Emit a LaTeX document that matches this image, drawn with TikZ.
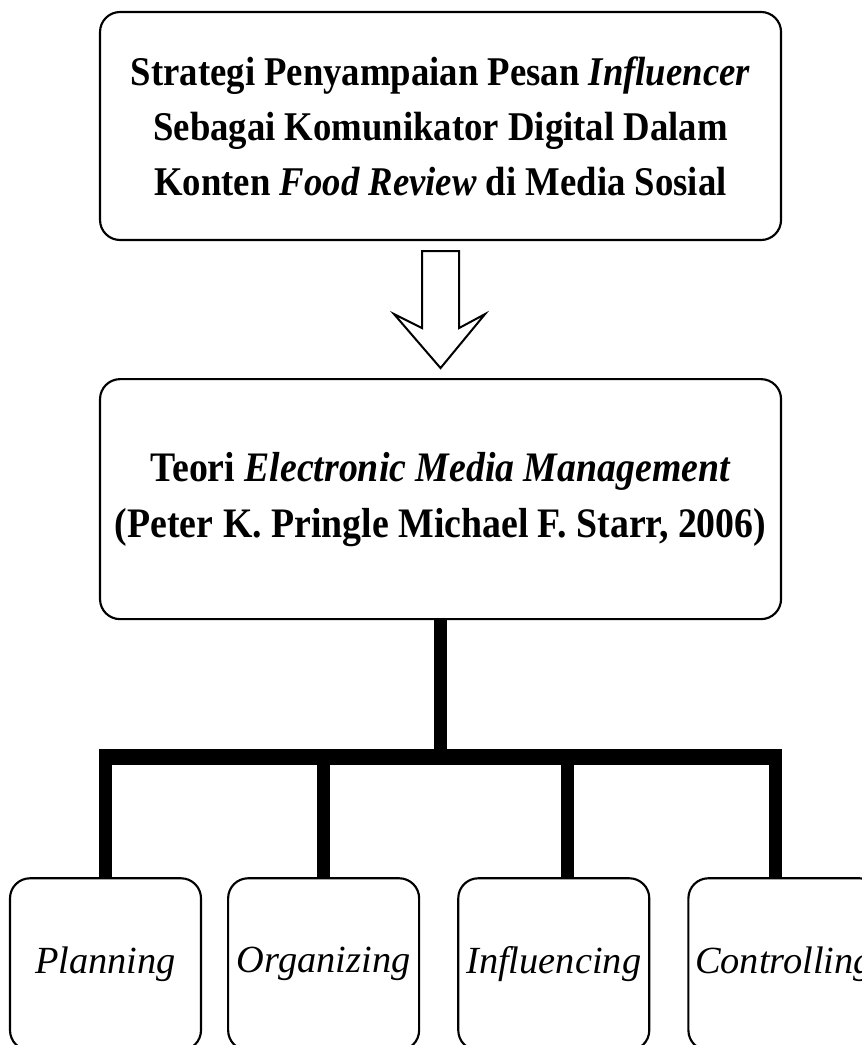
\documentclass[tikz,border=0pt]{standalone}
\usepackage{fontspec}
\setmainfont{Liberation Serif}
\newfontfamily\narrowserif{Liberation Serif}[FakeStretch=0.9]
\usetikzlibrary{positioning, calc}
\tikzset{
    base/.style = {
        draw=black, line width=1.6pt, rounded corners=15pt, align=center,
        inner sep=0pt, fill=white
    },
    % Boxes
    topicbox/.style  = {base, minimum width=510.75pt, minimum height=171pt,
                        font=\narrowserif\fontsize{30.6pt}{41.25pt}\selectfont\bfseries},
    theorybox/.style = {base, minimum width=510.75pt, minimum height=180pt,
                        font=\narrowserif\fontsize{31.5pt}{42pt}\selectfont\bfseries},
    branch/.style    = {base, minimum width=143.25pt, minimum height=129pt,
                        font=\fontsize{28.8pt}{34pt}\selectfont\itshape},
    % Connectors
    hollow/.style = {draw=black, line width=1.5pt, fill=white, line join=miter},
    trunk/.style  = {line width=10pt},
    bar/.style    = {line width=12pt}
}
\begin{document}
\begin{tikzpicture}
    \useasboundingbox (0,0) rectangle (646.5pt,-783.75pt);

    \node (topic) [topicbox] at (330.4pt,-94.5pt)
        {Strategi Penyampaian Pesan \textit{Influencer}\\
         Sebagai Komunikator Digital Dalam\\
         Konten \textit{Food Review} di Media Sosial};

    \node (theory) [theorybox, below=102.75pt of topic]
        {Teori \textit{Electronic Media Management}\\
         (Peter K. Pringle Michael F. Starr, 2006)};

    \node (plan) [branch, below=192.75pt of theory.south west, xshift=4.9pt] {Planning};
    \node (organize) [branch, right=18.75pt of plan] {Organizing};
    \node (influence) [branch, right=27.75pt of organize] {Influencing};
    \node (control) [branch, right=27.75pt of influence] {Controlling};

    % Hollow arrow between the two upper boxes
    \draw [hollow]
        ($(topic.south)+(-13.9pt,-7.5pt)$) -- ($(topic.south)+(13.9pt,-7.5pt)$)
        -- ($(topic.south)+(13.9pt,-65.25pt)$) -- ($(topic.south)+(33.4pt,-54.75pt)$)
        -- ($(theory.north)+(0,7.5pt)$)
        -- ($(topic.south)+(-34.9pt,-54.75pt)$) -- ($(topic.south)+(-13.9pt,-65.25pt)$)
        -- cycle;

    % Tree of branches
    \coordinate [below=102.75pt of theory.south] (hub);
    \draw [trunk] (theory.south) -- (hub);
    \draw [bar] ([xshift=-5pt]plan.north |- hub) -- ([xshift=-1.4pt]control.north |- hub);
    \draw [trunk] (plan.north |- hub) -- (plan.north);
    \draw [trunk] (organize.north |- hub) -- (organize.north);
    \draw [trunk] ([xshift=10.1pt]influence.north |- hub) -- ([xshift=10.1pt]influence.north);
    \draw [trunk] ([xshift=-6.4pt]control.north |- hub) -- ([xshift=-6.4pt]control.north);
\end{tikzpicture}
\end{document}
